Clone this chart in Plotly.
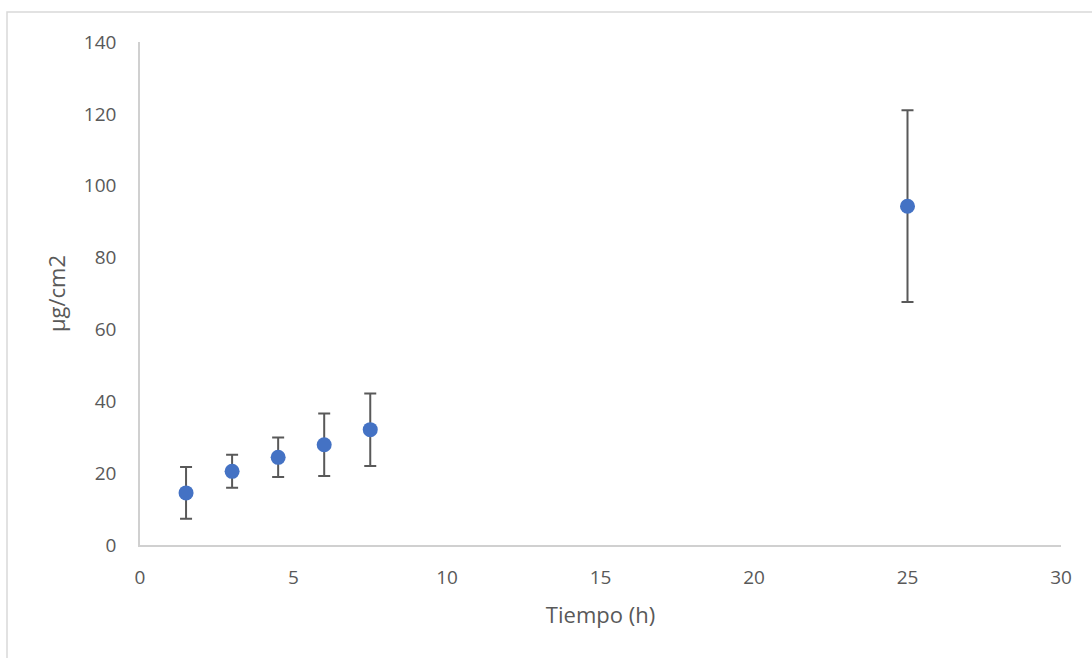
import plotly.graph_objects as go

tiempo = [1.5, 3, 4.5, 6, 7.5, 25]
valores = [14.5, 20.5, 24.4, 27.9, 32.1, 94.3]
errores = [7.2, 4.6, 5.5, 8.7, 10.1, 26.7]

W, H = 1092, 658
L, R, T, B = 140, 31, 42, 113
pw, ph = W - L - R, H - T - B

fig = go.Figure()
fig.add_trace(go.Scatter(
    x=tiempo, y=valores, mode="markers",
    marker=dict(color="#4472C4", size=15, line=dict(width=0)),
    error_y=dict(type="data", array=errores, visible=True,
                 color="#595959", thickness=2, width=6),
    showlegend=False,
))

def px(x): return (x - L) / pw
def py(y): return (H - B - y) / ph

fig.add_shape(type="rect", xref="paper", yref="paper",
              x0=px(7), x1=px(1100), y0=py(670), y1=py(12),
              line=dict(color="#d9d9d9", width=1.5), layer="below")

tick = dict(family="'Open Sans', sans-serif", size=19, color="#595959")
ttl = dict(family="'Open Sans', sans-serif", size=22, color="#595959")
fig.update_layout(
    width=W, height=H,
    margin=dict(l=L, r=R, t=T, b=B),
    paper_bgcolor="white", plot_bgcolor="white",
    font=tick,
    xaxis=dict(range=[0, 30], dtick=5, showgrid=False, zeroline=False,
               showline=True, linecolor="#d0d0d0", linewidth=1.5,
               ticks="", tickfont=tick, ticklabelstandoff=14,
               title=dict(text="Tiempo (h)", font=ttl, standoff=19)),
    yaxis=dict(range=[0, 140], dtick=20, showgrid=False, zeroline=False,
               showline=True, linecolor="#d0d0d0", linewidth=1.5,
               ticks="", tickfont=tick, ticklabelstandoff=18,
               title=dict(text="µg/cm2", font=ttl, standoff=12)),
)
fig.write_html("out.html", config={"displayModeBar": False},
               post_script="document.body.style.margin='0';")
